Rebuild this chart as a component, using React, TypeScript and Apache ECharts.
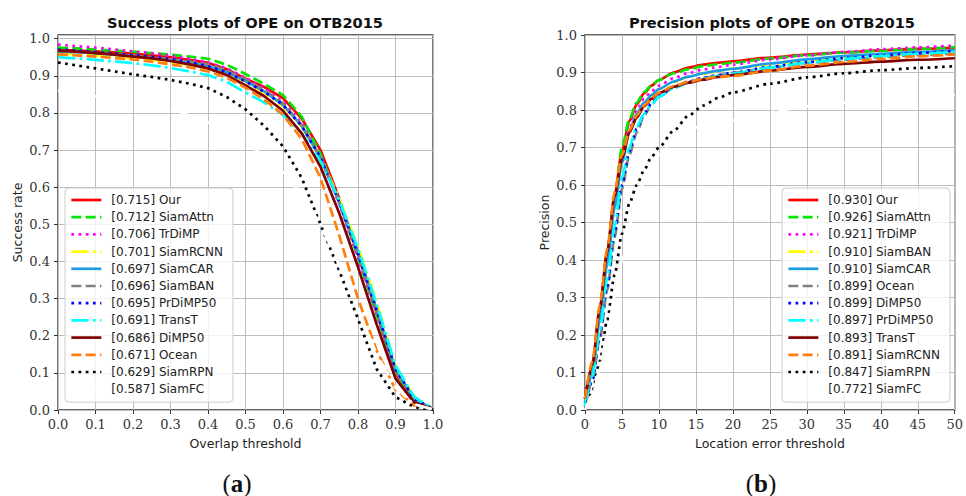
import React, { useEffect, useRef } from "react";
import * as echarts from "echarts";

// ---------- data ----------
const successThresholds = [0, 0.05, 0.1, 0.15, 0.2, 0.25, 0.3, 0.35, 0.4, 0.45, 0.5, 0.55, 0.6, 0.65, 0.7, 0.75, 0.8, 0.85, 0.9, 0.95, 1.0];
const successNames = ["Our", "SiamAttn", "TrDiMP", "SiamRCNN", "SiamCAR", "SiamBAN", "PrDiMP50", "TransT", "DiMP50", "Ocean", "SiamRPN", "SiamFC"];
const successScores = ["0.715", "0.712", "0.706", "0.701", "0.697", "0.696", "0.695", "0.691", "0.686", "0.671", "0.629", "0.587"];
const sOur = [0.970, 0.968, 0.966, 0.963, 0.960, 0.955, 0.950, 0.943, 0.935, 0.918, 0.892, 0.870, 0.840, 0.785, 0.700, 0.570, 0.420, 0.260, 0.100, 0.025, 0.003];
const sSiamAttn = [0.976, 0.974, 0.971, 0.968, 0.965, 0.961, 0.957, 0.952, 0.946, 0.930, 0.905, 0.878, 0.848, 0.790, 0.690, 0.560, 0.410, 0.255, 0.100, 0.025, 0.003];
const sTrDiMP = [0.984, 0.980, 0.976, 0.971, 0.966, 0.961, 0.954, 0.946, 0.936, 0.920, 0.895, 0.866, 0.830, 0.772, 0.680, 0.555, 0.410, 0.260, 0.105, 0.030, 0.003];
const sSiamRCNN = [0.960, 0.958, 0.955, 0.952, 0.948, 0.943, 0.937, 0.930, 0.920, 0.904, 0.880, 0.853, 0.818, 0.763, 0.680, 0.570, 0.440, 0.290, 0.120, 0.035, 0.004];
const sSiamCAR = [0.966, 0.964, 0.961, 0.957, 0.953, 0.948, 0.942, 0.935, 0.926, 0.910, 0.886, 0.858, 0.822, 0.765, 0.680, 0.560, 0.425, 0.270, 0.110, 0.030, 0.003];
const sSiamBAN = [0.968, 0.966, 0.963, 0.959, 0.955, 0.950, 0.945, 0.939, 0.931, 0.915, 0.890, 0.862, 0.826, 0.768, 0.680, 0.558, 0.420, 0.265, 0.105, 0.028, 0.003];
const sPrDiMP50 = [0.971, 0.968, 0.964, 0.960, 0.956, 0.951, 0.945, 0.937, 0.926, 0.910, 0.885, 0.857, 0.822, 0.765, 0.680, 0.560, 0.420, 0.268, 0.110, 0.030, 0.003];
const sTransT = [0.950, 0.947, 0.943, 0.939, 0.934, 0.928, 0.921, 0.912, 0.902, 0.884, 0.855, 0.828, 0.795, 0.745, 0.670, 0.565, 0.435, 0.285, 0.120, 0.035, 0.004];
const sDiMP50 = [0.968, 0.965, 0.961, 0.957, 0.952, 0.947, 0.940, 0.931, 0.920, 0.902, 0.874, 0.845, 0.806, 0.745, 0.655, 0.530, 0.385, 0.230, 0.085, 0.020, 0.002];
const sOcean = [0.958, 0.955, 0.952, 0.948, 0.944, 0.938, 0.931, 0.923, 0.912, 0.895, 0.868, 0.836, 0.795, 0.730, 0.625, 0.470, 0.300, 0.160, 0.055, 0.012, 0.002];
const sSiamRPN = [0.936, 0.928, 0.920, 0.912, 0.904, 0.897, 0.889, 0.879, 0.867, 0.843, 0.810, 0.765, 0.710, 0.625, 0.500, 0.375, 0.245, 0.110, 0.035, 0.008, 0.001];
const sSiamFC = [0.860, 0.850, 0.845, 0.840, 0.830, 0.820, 0.810, 0.795, 0.775, 0.750, 0.720, 0.685, 0.640, 0.580, 0.500, 0.390, 0.270, 0.150, 0.060, 0.015, 0.002];
const successValues = [sOur, sSiamAttn, sTrDiMP, sSiamRCNN, sSiamCAR, sSiamBAN, sPrDiMP50, sTransT, sDiMP50, sOcean, sSiamRPN, sSiamFC];

const precisionThresholds = [0, 1, 2, 3, 4, 5, 6, 7, 8, 9, 10, 12, 14, 16, 18, 20, 25, 30, 35, 40, 45, 50];
const precisionNames = ["Our", "SiamAttn", "TrDiMP", "SiamBAN", "SiamCAR", "Ocean", "DiMP50", "PrDiMP50", "TransT", "SiamRCNN", "SiamRPN", "SiamFC"];
const precisionScores = ["0.930", "0.926", "0.921", "0.910", "0.910", "0.899", "0.899", "0.897", "0.893", "0.891", "0.847", "0.772"];
const pOur = [0.03, 0.12, 0.27, 0.42, 0.57, 0.69, 0.77, 0.815, 0.845, 0.865, 0.880, 0.900, 0.913, 0.921, 0.926, 0.930, 0.940, 0.948, 0.954, 0.959, 0.963, 0.966];
const pSiamAttn = [0.03, 0.12, 0.27, 0.42, 0.57, 0.70, 0.775, 0.82, 0.848, 0.866, 0.880, 0.898, 0.909, 0.917, 0.922, 0.926, 0.937, 0.946, 0.953, 0.958, 0.963, 0.968];
const pTrDiMP = [0.02, 0.10, 0.24, 0.39, 0.54, 0.66, 0.75, 0.80, 0.83, 0.85, 0.865, 0.885, 0.899, 0.908, 0.915, 0.921, 0.935, 0.946, 0.955, 0.962, 0.967, 0.972];
const pSiamBAN = [0.02, 0.10, 0.24, 0.39, 0.54, 0.66, 0.74, 0.79, 0.82, 0.84, 0.855, 0.875, 0.888, 0.897, 0.904, 0.910, 0.922, 0.932, 0.940, 0.946, 0.951, 0.955];
const pSiamCAR = [0.02, 0.10, 0.24, 0.39, 0.54, 0.66, 0.745, 0.79, 0.82, 0.84, 0.856, 0.876, 0.889, 0.898, 0.905, 0.910, 0.924, 0.935, 0.944, 0.950, 0.955, 0.960];
const pOcean = [0.01, 0.08, 0.19, 0.32, 0.46, 0.59, 0.68, 0.74, 0.785, 0.815, 0.835, 0.860, 0.875, 0.885, 0.893, 0.899, 0.913, 0.925, 0.934, 0.941, 0.946, 0.950];
const pDiMP50 = [0.01, 0.08, 0.20, 0.33, 0.47, 0.60, 0.69, 0.75, 0.79, 0.818, 0.838, 0.862, 0.876, 0.886, 0.893, 0.899, 0.915, 0.928, 0.938, 0.946, 0.952, 0.958];
const pPrDiMP50 = [0.01, 0.09, 0.21, 0.35, 0.49, 0.62, 0.70, 0.755, 0.79, 0.815, 0.835, 0.858, 0.873, 0.883, 0.891, 0.897, 0.913, 0.926, 0.936, 0.944, 0.950, 0.955];
const pTransT = [0.03, 0.12, 0.27, 0.42, 0.57, 0.67, 0.74, 0.78, 0.81, 0.83, 0.845, 0.862, 0.873, 0.881, 0.888, 0.893, 0.905, 0.915, 0.923, 0.929, 0.934, 0.938];
const pSiamRCNN = [0.03, 0.13, 0.28, 0.43, 0.58, 0.68, 0.745, 0.785, 0.812, 0.832, 0.846, 0.864, 0.875, 0.883, 0.888, 0.891, 0.905, 0.918, 0.928, 0.936, 0.943, 0.948];
const pSiamRPN = [0.0, 0.05, 0.13, 0.24, 0.36, 0.47, 0.55, 0.60, 0.64, 0.675, 0.70, 0.745, 0.785, 0.812, 0.832, 0.847, 0.870, 0.887, 0.898, 0.906, 0.912, 0.917];
const pSiamFC = [0.0, 0.04, 0.11, 0.20, 0.30, 0.40, 0.49, 0.56, 0.61, 0.65, 0.68, 0.72, 0.745, 0.76, 0.767, 0.772, 0.795, 0.81, 0.82, 0.828, 0.834, 0.84];
const precisionValues = [pOur, pSiamAttn, pTrDiMP, pSiamBAN, pSiamCAR, pOcean, pDiMP50, pPrDiMP50, pTransT, pSiamRCNN, pSiamRPN, pSiamFC];

const successTicks = ["0.0", "0.1", "0.2", "0.3", "0.4", "0.5", "0.6", "0.7", "0.8", "0.9", "1.0"];

// ---------- styles (by rank) ----------
const rankColors = ["#ff0000", "#00e600", "#ff00ff", "#ffff00", "#1e9be6", "#808080", "#0000ff", "#00ffff", "#800000", "#ff7f0e", "#000000", "#ffffff"];
const rankDash = ["solid", "dashed", "dotted", "dashdot", "solid", "dashed", "dotted", "dashdot", "solid", "dashed", "dotted", "dashdot"];
const LW = 2.7;
const dashMap: Record<string, any> = {
  solid: "solid",
  dashed: [10, 4.3],
  dotted: [2.7, 4.5],
  dashdot: [17.3, 4.3, 2.7, 4.3],
};

const SANS = "DejaVu Sans";
const SERIF = "DejaVu Serif";

function buildSeries(names: string[], scores: string[], xs: number[], values: number[][], gridIdx: number, smooth: number) {
  return names.map((n, i) => ({
    type: "line",
    name: `[${scores[i]}] ${n}`,
    xAxisIndex: gridIdx,
    yAxisIndex: gridIdx,
    data: xs.map((x, j) => [x, values[i][j]]),
    symbol: "none",
    smooth: smooth,
    smoothMonotone: "x",
    lineStyle: { color: rankColors[i], width: LW, type: dashMap[rankDash[i]], cap: "butt" },
    itemStyle: { color: rankColors[i] },
    emphasis: { disabled: true },
    z: 2,
  }));
}

export default function App() {
  const ref = useRef<HTMLDivElement>(null);
  useEffect(() => {
    if (!ref.current) return;
    const chart = echarts.init(ref.current, undefined, { renderer: "svg" });

    const gridCommon = { show: true, borderColor: "#333", borderWidth: 1.3, backgroundColor: "transparent", containLabel: false };
    const axisLabel = { color: "#333", fontFamily: SERIF, fontSize: 13, margin: 8 };
    const splitLine = { show: true, lineStyle: { color: "#bcbcbc", width: 1 } };
    const axisTick = { show: true, inside: false, length: 4, lineStyle: { color: "#333", width: 1 } };
    const nameStyle = { color: "#222", fontFamily: SANS, fontSize: 12.5 };

    const legendCommon = {
      orient: "vertical",
      top: 188,
      padding: [6, 10, 7, 5],
      itemWidth: 30,
      itemHeight: 12,
      itemGap: 5.2,
      backgroundColor: "rgba(255,255,255,0.8)",
      borderColor: "#cccccc",
      borderWidth: 1,
      borderRadius: 4,
      selectedMode: false,
      textStyle: { color: "#222", fontFamily: SANS, fontSize: 12, lineHeight: 12, padding: [0, 0, 0, 5] },
      itemStyle: { color: "rgba(0,0,0,0)", borderWidth: 0, borderColor: "rgba(0,0,0,0)" },
      lineStyle: { width: LW },
      z: 10,
    };

    const option: any = {
      animation: false,
      backgroundColor: "#ffffff",
      grid: [
        { ...gridCommon, left: 58, top: 35, width: 375, height: 375 },
        { ...gridCommon, left: 585, top: 35, width: 376, height: 375 },
      ],
      xAxis: [
        {
          type: "value", gridIndex: 0, min: 0, max: 1, interval: 0.1,
          axisLine: { show: false }, axisTick, splitLine,
          axisLabel: { ...axisLabel, formatter: (v: number) => successTicks[Math.round(v * 10)] },
          name: "Overlap threshold", nameLocation: "middle", nameGap: 27, nameTextStyle: nameStyle,
        },
        {
          type: "value", gridIndex: 1, min: 0, max: 50, interval: 5,
          axisLine: { show: false }, axisTick, splitLine,
          axisLabel: { ...axisLabel },
          name: "Location error threshold", nameLocation: "middle", nameGap: 27, nameTextStyle: nameStyle,
        },
      ],
      yAxis: [
        {
          type: "value", gridIndex: 0, min: 0, max: 1.01, interval: 0.1,
          axisLine: { show: false }, axisTick, splitLine,
          axisLabel: { ...axisLabel, showMaxLabel: false, formatter: (v: number) => v.toFixed(1) },
          name: "Success rate", nameLocation: "middle", nameGap: 34, nameTextStyle: nameStyle,
        },
        {
          type: "value", gridIndex: 1, min: 0, max: 1, interval: 0.1,
          axisLine: { show: false }, axisTick, splitLine,
          axisLabel: { ...axisLabel, formatter: (v: number) => v.toFixed(1) },
          name: "Precision", nameLocation: "middle", nameGap: 34, nameTextStyle: nameStyle,
        },
      ],
      legend: [
        { ...legendCommon, left: 65, data: successNames.map((n, i) => `[${successScores[i]}] ${n}`) },
        { ...legendCommon, left: 782, data: precisionNames.map((n, i) => `[${precisionScores[i]}] ${n}`) },
      ],
      series: [
        ...buildSeries(successNames, successScores, successThresholds, successValues, 0, 0),
        ...buildSeries(precisionNames, precisionScores, precisionThresholds, precisionValues, 1, 0.25),
      ],
      graphic: [
        {
          type: "text", x: 245, y: 22,
          style: { text: "Success plots of OPE on OTB2015", fontFamily: SANS, fontWeight: "bold", fontSize: 14.6, fill: "#111", textAlign: "center", textVerticalAlign: "middle" },
        },
        {
          type: "text", x: 772, y: 22,
          style: { text: "Precision plots of OPE on OTB2015", fontFamily: SANS, fontWeight: "bold", fontSize: 14.6, fill: "#111", textAlign: "center", textVerticalAlign: "middle" },
        },
        {
          type: "text", x: 237, y: 483,
          style: {
            text: "{p|(}{b|a}{p|)}", textAlign: "center", textVerticalAlign: "middle",
            rich: { p: { fontFamily: "Liberation Serif", fontSize: 25, fill: "#111" }, b: { fontFamily: "Liberation Serif", fontSize: 25, fontWeight: "bold", fill: "#111" } },
          },
        },
        {
          type: "text", x: 761, y: 483,
          style: {
            text: "{p|(}{b|b}{p|)}", textAlign: "center", textVerticalAlign: "middle",
            rich: { p: { fontFamily: "Liberation Serif", fontSize: 25, fill: "#111" }, b: { fontFamily: "Liberation Serif", fontSize: 25, fontWeight: "bold", fill: "#111" } },
          },
        },
      ],
    };
    chart.setOption(option);
    return () => chart.dispose();
  }, []);
  return <div ref={ref} style={{ position: "absolute", left: 0, top: 0, width: 966, height: 496 }} />;
}
